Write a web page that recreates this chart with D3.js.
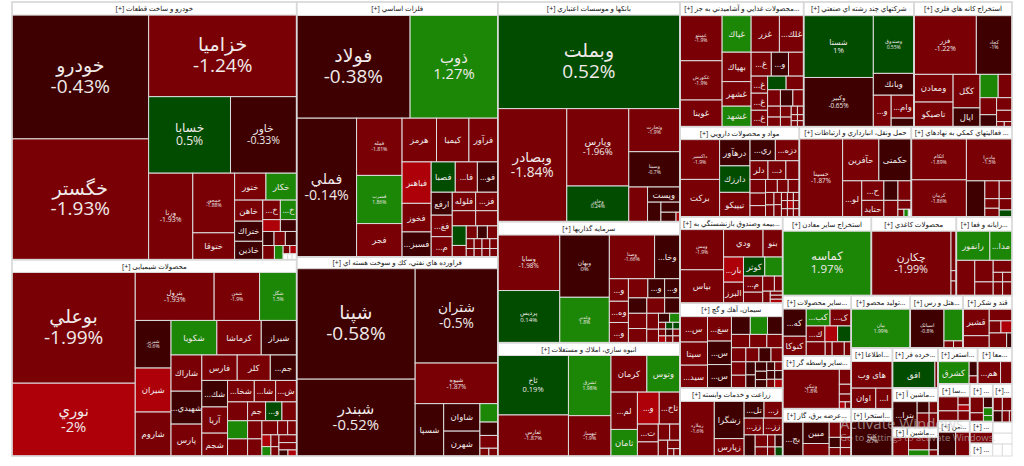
<!DOCTYPE html>
<html><head><meta charset="utf-8">
<style>html,body{margin:0;background:#fff;overflow:hidden}svg{display:block}text{font-family:"Open Sans","DejaVu Sans",sans-serif}</style>
<script src="https://cdn.jsdelivr.net/npm/d3@7"></script></head><body>
<script>
// leaf: [name, value, percent change, show percent]; percent null = white header / empty cell
// branch: ["h"|"v", ...children]
const D=-0.5, M=-1.5, B=-2.5, G=0.5, L=1.5; // estimated changes for cells with no legible figure
const auto=["v",["خودرو و ساخت قطعات [+]",3700,null],["h",
 ["v",["خودرو",16765,-0.43,1],["خگستر",16356,-1.93,1]],
 ["v",["خزامیا",11964,-1.24,1],["h",["خسابا",6209,0.5,1],["خاور",5016,-0.33,1]],
  ["h",["ورنا",3784,-1.93,1],["v",["خمحور",2473,-1.88,1],["ختوقا",1113,M]],
   ["v",["h",["ختور",836,M],["خکار",819,L]],
    ["h",["v",["خاهن",588,M],["ختراك",560,D],["خاذین",512,D]],
     ["v",["h",["خ...",341,M],["خ...",315,L]],["h",["",207,B],["",191,D]],["h",["",157,D],["",157,M],["",157,D]],
      ["h",["",164,M],["",122,L],["v",["h",["",56,M],["",56,B]],["h",["",26,null],["",26,null],["",26,null
 ]]]]] ]]]]] ];
const chem=["v",["محصولات شیمیایی [+]",3607,null],["h",
 ["v",["بوعلي",13530,-1.99,1],["نوري",8893,-2,1]],
 ["v",["h",["بترول",3754,-1.93,1],["شفن",2161,-1.9,1],["شگل",1765,1.5,1]],
  ["h",["v",["شبریز",1689,-0.6,1],["شیران",1560,B],["شاروم",1560,M]],
   ["v",["h",["شکویا",1568,L],["کرماشا",1520,M],["شیراز",1211,D]],
    ["h",["v",["شاراك",1105,M],["شهيدي...",1004,D],["پارس",973,M]],
     ["v",["h",["فارس",893,M],["کلر",835,M],["جم...",665,D]],
      ["h",["v",["شك...",676,D],["آریا",668,M],["شجم",583,M]],
       ["v",["h",["شخا...",569,M],["شا...",454,M],["ش...",447,M]],
        ["h",["",374,M],["جم",337,M],["و...",305,G],["",275,M]],
        ["h",["v",["",360,L],["",340,M]],["v",["",257,M],["",243,M]],
         ["v",["h",["",220,M],["",140,M],["",126,M]],
          ["h",["v",["",105,B],["",84,L]],["v",["",94,M],["",74,M]],
           ["v",["",136,M],["",129,M],["h",["",54,D],["",52,B
 ]]]]] ]]]]] ]]]]];
const metals=["v",["فلزات اساسي [+]",2670,null],
 ["h",["فولاد",11492,-0.38,1],["ذوب",8878,1.27,1]],
 ["h",["فملي",8197,-0.14,1],
  ["v",["فمله",2568,-1.81,1],["فسرب",2161,1.86,1],["فجر",1495,M]],
  ["v",["h",["هرمز",1485,M],["کیمیا",1399,M],["فرآور",1243,M]],
   ["h",["v",["فباهنر",1189,B],["فخوز",821,M],["فسبز...",716,D]],
    ["v",["h",["فصبا",720,G],["فا...",660,M],["فو...",609,D]],
     ["h",["v",["ارفع",477,D],["فغ...",447,M],["م...",420,M]],
      ["v",["h",["فلوله",426,M],["فز...",403,M]],["h",["",350,M],["",330,M]],
       ["h",["v",["",270,G],["",158,M]],
        ["v",["h",["",140,M],["",127,D],["",131,M]],["h",["",76,M],["",76,M],["",76,M],["",76,M]],["h",["",65,M],["",65,M],["",65,M],["",65,M
 ]]]]] ]]]]] ];
const oil=["v",["فراورده هاي نفتي، كك و سوخت هسته اي [+]",2340,null],["h",
 ["v",["شپنا",12912,-0.58,1],["شبندر",8981,-0.52,1]],
 ["v",["شتران",7683,-0.5,1],["شیوه",3305,-1.87,1],
  ["h",["شسپا",1472,D],["v",["شاوان",983,D],["شهرن",889,D]],
   ["v",["",324,L],["",235,D],["",225,M],["h",["",68,M],["",68,M
 ]]]]] ]];
const banks=["v",["بانكها و موسسات اعتباري [+]",2357,null],["وبملت",16807,0.52,1],
 ["h",["وبصادر",7694,-1.84,1],
  ["v",["وپارس",4732,-1.96,1],["وخاور",2178,0.24,1]],
  ["v",["وتجارت",2178,-1.9,1],["وسینا",1785,-0.7,1],
   ["h",["",641,M],["v",["وپست",485,D],["h",["",257,D],["v",["",190,D],["h",["",140,D],["",37,B
 ]]]]] ]]]];
const invest=["v",["سرمایه گذاریها [+]",2411,null],["h",
 ["v",["وسایا",3394,-1.98,1],["پردیس",3190,0.14,1]],
 ["v",["وبهان",3042,0,1],["وغدیر",2219,1.8,1]],
 ["v",["h",["وصنا",1949,-1.66,1],["وخا...",1096,D]],
  ["h",["v",["و...",424,M],["وه...",399,M],["و...",380,M]],
   ["v",["h",["",367,M],["و...",317,D],["و...",291,D]],["h",["",280,D],["",271,M],["",234,D]],
    ["h",["v",["",275,M],["",256,M]],["v",["",184,M],["",156,M]],
     ["v",["h",["",99,D],["",93,L]],["h",["",48,M],["",48,G],["",48,G]],["h",["",48,M],["",48,D],["",48,M]],["h",["",48,B],["",48,M],["",48,M
 ]]]]] ]]]];
const estate=["v",["انبوه سازي، املاك و مستغلات [+]",2302,null],["h",
 ["v",["ثاخ",4148,0.19,1],["ثفارس",2861,-1.87,1]],
 ["v",["ثشرق",2525,1.98,1],["ثبهساز",1692,-1.9,1]],
 ["v",["h",["کرمان",1296,M],["وتوس",1198,L]],
  ["h",["v",["لم...",973,M],["ثامان",692,L]],
   ["v",["h",["و...",688,B],["ثاخ...",656,M]],
    ["h",["v",["ت...",366,M],["",290,M]],
     ["v",["h",["",181,M],["",165,M]],["h",["",146,M],["v",["",102,M],["h",["",45,M],["",45,M
 ]]]]] ]]]]] ];
const food=["v",["...محصولات غذایي و آشامیدني به جز [+]",1631,null],["h",
 ["v",["غمینو",1835,-1.9,1],["غکورش",1597,-1.9,1],["غوینا",1084,M]],
 ["v",["غپاك",1025,L],["بهپاك",824,M],["غشهر",689,M],["غشهد",574,L]],
 ["v",["h",["غزر",1000,M],["غلك...",857,M]],
  ["h",["غ...",466,M],["و...",396,D],["",350,M]],
  ["h",["v",["غ...",272,M],["غ...",272,M],["غ...",261,M]],
   ["v",["h",["",244,G],["",231,M]],["h",["",203,M],["",197,D],["",171,M]],
    ["h",["v",["",135,M],["",119,M]],["v",["",114,M],["",100,M]],
     ["v",["h",["",51,M],["",51,M]],["h",["",36,M],["",36,M]],["h",["",36,M],["",36,M
 ]]]]] ]]]];
const pharma=["v",["مواد و محصولات دارویي [+]",1495,null],["h",
 ["v",["داکسیر",1521,-1.9,1],["برکت",1431,M]],
 ["v",["درهآور",771,D],["دارزك",780,G],["تیپیکو",720,M]],
 ["v",["h",["ري...",517,D],["دزه...",490,M]],["h",["دلر",324,M],["د...",324,M],["",244,M]],
  ["h",["v",["",204,M],["",188,M],["",168,M]],
   ["v",["h",["",148,M],["",136,M],["",140,M]],
    ["h",["v",["",102,M],["",97,M]],["v",["",88,M],["",88,M]],
     ["v",["h",["",47,M],["",47,M],["",47,M]],["h",["",47,M],["",47,B],["",47,M]],["h",["",47,M],["",47,M],["",47,M
 ]]]]] ]]]];
const transport=["v",["حمل ونقل، انبارداري و ارتباطات [+]",1332,null],["h",
 ["حسینا",3255,-1.87,1],
 ["v",["h",["حآفرین",1465,M],["حکمتی",1315,D]],
  ["h",["لو...",665,M],["v",["ح...",418,M],["حتاید",352,M]],
   ["v",["h",["",266,D],["",253,M]],["h",["",224,M],["v",["",116,M],["h",["",44,M],["",32,L],["",22,null
 ]]]]] ]]]];
const holding=["v",["شرکتهاي چند رشته اي صنعتي [+]",1458,null],["h",
 ["v",["شستا",4163,1,1],["وکبیر",3312,-0.65,1]],
 ["v",["وصندوق",2271,0.55,1],["وبانك",859,D],
  ["h",["و...",543,M],["v",["وام...",506,M],["",189,D
 ]]]]] ];
const ores=["v",["استخراج كانه هاي فلزي [+]",1293,null],
 ["h",["فزر",3535,-1.22,1],["کچاد",2023,-1,1]],
 ["h",["v",["ومعادن",1045,M],["تاصیکو",929,M]],["v",["کگل",873,M],["اپال",489,D]],
  ["v",["h",["",409,L],["",311,M]],
   ["h",["v",["",272,M],["",191,D]],["v",["",188,M],["",168,M],["h",["",38,M],["",38,M
 ]]]]] ]];
const support=["v",["... فعالیتهاي کمکي به نهادهاي [+]",1200,null],["h",
 ["v",["اتکام",2172,-1.89,1],["کرمان",1969,-1.86,1]],
 ["v",["مادیرا",1844,-1.5,1],
  ["h",["",641,D],["v",["",247,M],["",133,M],["",119,M]],["v",["",220,M],["",140,M],["",85,G
 ]]]]] ];
const insurance=["v",["...بیمه وصندوق بازنشستگي به [+]",1266,null],["h",
 ["v",["ومس",1692,-1.9,1],["بپاس",1408,M]],
 ["v",["h",["ودي",1046,M],["بنو",519,M]],
  ["h",["v",["بار...",483,B],["البرز",405,M]],
   ["v",["h",["کوثر",393,G],["",329,L]],
    ["h",["v",["م...",299,M],["",206,M]],
     ["v",["h",["",170,M],["",120,M]],["h",["",88,M],["v",["",48,M],["",48,M],["",48,B
 ]]]]] ]]]]];
const cement=["v",["سیمان، آهك و گچ [+]",1326,null],["h",
 ["v",["س...",675,M],["سپتا",614,M],["سید...",606,M]],
 ["v",["سغ...",566,M],["س...",543,D],["س...",543,D]],
 ["v",["h",["",324,D],["",296,L],["",260,D]],["h",["",235,M],["",222,M],["",204,M]],
  ["h",["",196,M],["",178,M],["",164,D],["",158,M]],
  ["h",["v",["",186,M],["",178,M]],["v",["",121,D],["",121,D]],["v",["",103,D],["",92,D],["",92,D]],
   ["v",["h",["",67,D],["",67,M]],["h",["",67,D],["",67,D]],["h",["",67,M],["",67,B
 ]]]]] ]];
const farming=["v",["زراعت و خدمات وابسته [+]",1326,null],["h",
 ["زملارد",1808,-1.6,1],
 ["v",["زشگرا",1073,D],["زپارس",502,M]],
 ["v",["h",["تل...",322,D],["ز...",301,M]],["h",["زز...",312,M],["زز...",312,M]],
  ["h",["",225,D],["v",["",144,M],["",108,M]],["v",["",88,M],["",66,M]],["v",["",88,D],["",66,G
 ]]]]] ];
const mines=["v",["استخراج سایر معادن [+]",1232,null],["کماسه",5518,1.97,1]];
const paper=["v",["محصولات کاغذي [+]",1180,null],["h",["چکارن",4953,-1.99,1],["v",["",203,M],["",53,M],["",75,M]]]];
const computer=["v",["...رایانه و فعا [+]",774,null],
 ["h",["رانفور",943,L],["مدا...",623,L]],
 ["h",["",628,M],["v",["",384,M],["",243,M]],
  ["v",["",218,M],["h",["",87,M],["",87,M]],["h",["",124,M],["",124,M
 ]]]]] ;
const otherGoods=["v",["...سایر محصولات [+]",895,null],["h",
 ["v",["که...",620,D],["کنوکا",447,M]],
 ["v",["h",["کب...",389,L],["ک...",346,M]],["h",["ك...",288,M],["",194,B],["",210,G]],
  ["h",["",256,M],["",94,M],["",164,M],["",94,M
 ]]]]] ;
const product=["v",["...تولید محصو [+]",778,null],["بیان",2215,1.99,1]];
const hotel=["v",["...هتل و رس [+]",697,null],["h",["اسیاتک",1265,-0.8,1],["v",["",583,L],["h",["",66,M],["",66,M]]]]];
const sugar=["v",["قند و شکر [+]",648,null],["h",
 ["v",["قشیر",668,M],["",312,M]],
 ["v",["",256,M],["h",["",137,M],["",129,B]],["h",["",254,M],["",78,D
 ]]]]] ;
const broker=["v",["...سایر واسطه گر [+]",895,null],["h",
 ["ونیکی",2155,-1.8,1],["v",["",172,M],["",113,M],["",90,M],["h",["",39,B],["",39,M
 ]]]]] ;
const power=["v",["...عرضه برق، گاز [+]",895,null],["h",
 ["بج...",667,D],["v",["مبین",540,D],["",316,M]],
 ["v",["h",["",165,M],["",160,M]],["h",["",110,D],["",107,M]],["h",["",91,M],["",89,M
 ]]]]] ;
const info=["v",["...اطلاعا [+]",537,null],["های وب",1060,M],["h",["اوان",487,M],["ا...",331,M]]];
const quarry=["v",["...استخرا [+]",512,null],["کاوه",1370,-0.7,1]];
const retail=["v",["...خرده فر [+]",590,null],["h",["افق",1086,G],["",79,M]]];
const machines=["v",["...ماشین آ [+]",607,null],["h",["بترا...",617,D],
 ["v",["h",["",132,D],["",98,M]],["h",["",167,M],["",124,M
 ]]]]] ;
const machines2=["v",["...ماشین آ [+]",443,null],["h",["",287,M],["v",["",246,M],["",120,L]],["v",["",107,D],["",52,M]]]];
const leasing=["v",["...استعر [+]",519,null],["h",["کشرق",666,L],["v",["",116,D],["",64,M]]]];
const maaden2=["v",["...معا [+]",452,null],["h",["هم...",492,M],["",245,M]]];
const misc1=["v",["...سا [+]",400,null],["h",["v",["",272,M],["",190,M]],["v",["",91,M],["",66,B],["",110,M]]]];
const misc2=["v",["... [+]",297,null],["h",["v",["",209,M],["",116,M]],["v",["",96,D],["",69,L],["",54,L]]]];
const misc3=["v",["...[+]",253,null],["h",["",126,M],["",126,M]],["h",["",105,D],["",80,M],["",29,M]]];
const misc4=["v",["...من [+]",351,null],["h",["",406,D],["",323,M]]];
const misc5=["v",["... [+]",239,null],["",245,M]];
const misc6=["... [+]",283,null];
const misc7=["",203,null], misc8=["",203,null], misc9=["",111,null], misc10=["",111,null];

const isBranch=d=>d[0]==="h"||d[0]==="v";
// column calibration: the headers and gutters are counted differently from column to column
const weigh=(t,k)=>isBranch(t)?[t[0],...t.slice(1).map(c=>weigh(c,k))]:[t[0],t[1]*k,t[2],t[3]];
const layout=["h",
 weigh(["v",auto,chem],0.975),weigh(["v",metals,oil],0.98),weigh(["v",banks,invest,estate],0.98),
 ["v",
  ["v",["h",food,holding,ores],["h",pharma,transport,support]],
  ["h",["v",insurance,cement,farming],
   ["v",["h",mines,paper,computer],
    ["h",["v",otherGoods,broker,power],
     ["v",["h",product,hotel,sugar],
      ["h",["v",info,quarry],["v",retail,machines,machines2],
       ["v",["h",leasing,maaden2],
        ["h",["v",misc1,misc4],["v",misc2,misc5,misc6],["v",misc3,misc7,misc8,["h",misc9,misc10
 ]]]]] ]]]]] ];

const tile=(n,a,b,c,e)=>(n.data[0]==="h"?d3.treemapDice:d3.treemapSlice)(n,a,b,c,e);
const width=1024,height=466;
const root=d3.treemap().size([1000,454]).tile(tile).round(false)(
 d3.hierarchy(layout,d=>isBranch(d)?d.slice(1):null).sum(d=>isBranch(d)?0:d[1]));
const color=d3.scaleThreshold().domain([-1.999,-1,0.001,1.001]).range(["#ae0009","#790005","#3e0000","#024c00","#1c8706"]);
const fsScale=d3.scaleLinear().domain([50,65,72,90,99,108]).range([5,7.5,11,14,15.5,19]).clamp(true);
const svg=d3.select("body").append("svg").attr("width",width).attr("height",height);
const g=svg.append("g").attr("transform","translate(12,2)");
const leaves=root.leaves();
const cell=g.selectAll("g.c").data(leaves).join("g").attr("class","c")
 .attr("transform",d=>`translate(${d.x0},${d.y0})`);
cell.append("rect").attr("width",d=>d.x1-d.x0).attr("height",d=>d.y1-d.y0)
 .attr("fill",d=>d.data[2]===null?"#fff":color(d.data[2]))
 .attr("stroke","#ddd").attr("stroke-width",1);
// headers
cell.filter(d=>d.data[2]===null&&d.data[0]).append("text")
 .attr("x",d=>(d.x1-d.x0)/2).attr("y",d=>(d.y1-d.y0)/2+2.5)
 .attr("text-anchor","middle").attr("direction","rtl")
 .attr("fill","#111").attr("font-size",7).text(d=>d.data[0]);
// cell labels
const lab=cell.filter(d=>d.data[2]!==null&&d.data[0]);
const fs=d=>d.data[3]?fsScale(Math.sqrt((d.x1-d.x0)*(d.y1-d.y0))):8.5;
lab.append("text").attr("x",d=>(d.x1-d.x0)/2)
 .attr("y",d=>(d.y1-d.y0)/2+(d.data[3]?-0.25*fs(d):0.35*fs(d)))
 .attr("text-anchor","middle").attr("direction","rtl").attr("fill","#f0eaea")
 .attr("font-size",fs).text(d=>d.data[0]);
lab.filter(d=>d.data[3]).append("text").attr("x",d=>(d.x1-d.x0)/2)
 .attr("y",d=>(d.y1-d.y0)/2+0.85*fs(d))
 .attr("text-anchor","middle").attr("fill","#f0eaea")
 .attr("font-size",fs).text(d=>d.data[2]+"%");
// sector frames
const sectors=root.descendants().filter(d=>d.children&&d.children[0].data[2]===null&&d.children[0].data[0]&&d.depth>0&&d.children.length>1);
g.selectAll("rect.s").data(sectors).join("rect").attr("class","s")
 .attr("x",d=>d.x0).attr("y",d=>d.y0).attr("width",d=>d.x1-d.x0).attr("height",d=>d.y1-d.y0)
 .attr("fill","none").attr("stroke","#d8d8d8").attr("stroke-width",1.5);
// OS watermark
svg.append("text").attr("x",840).attr("y",429).attr("font-size",15).attr("fill","#ccc").attr("opacity",.6).text("Activate Windows");
svg.append("text").attr("x",840).attr("y",441).attr("font-size",9.5).attr("fill","#ccc").attr("opacity",.6).text("Go to Settings to activate Windows.");
</script></body></html>
